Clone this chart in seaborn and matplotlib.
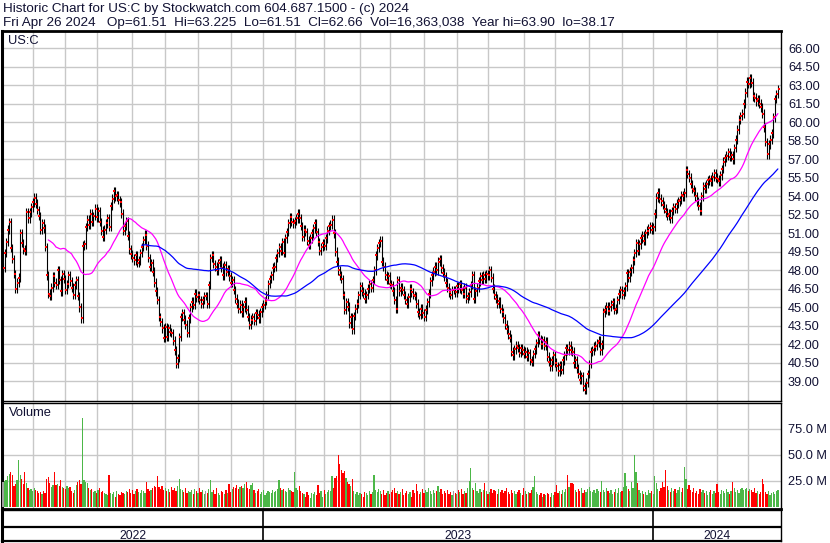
import numpy as np
import pandas as pd
import matplotlib
matplotlib.use("Agg")
import matplotlib.pyplot as plt
import seaborn as sns
from matplotlib.ticker import FuncFormatter, FormatStrFormatter

# ---- data (daily, May 4 2022 .. Apr 26 2024) ----
close = [
    48.2, 49.4, 50.3, 51.3, 51.9, 49.8, 48.9, 47.7, 46.5, 47.0,
    47.4, 51.0, 50.2, 49.7, 49.6, 52.7, 52.2, 52.7, 53.1, 53.5,
    53.9, 53.4, 52.9, 52.4, 51.3, 51.8, 51.4, 49.9, 47.6, 46.1,
    45.9, 46.6, 47.5, 47.0, 46.8, 48.0, 47.2, 46.3, 47.7, 47.3,
    46.4, 46.9, 47.6, 47.1, 46.6, 46.0, 46.8, 47.2, 45.9, 45.0,
    44.1, 50.0, 50.1, 51.5, 52.1, 51.7, 52.6, 51.9, 52.4, 53.0,
    52.3, 52.8, 51.9, 51.2, 50.7, 51.3, 51.8, 52.2, 51.5, 53.2,
    53.8, 54.4, 54.0, 54.1, 53.7, 53.5, 52.6, 51.2, 51.6, 52.0,
    50.8, 49.7, 49.3, 49.0, 48.8, 49.2, 48.6, 48.8, 49.4, 49.9,
    50.45, 50.9, 50.0, 49.0, 48.3, 48.6, 47.9, 47.0, 46.3, 45.6,
    44.2, 43.8, 43.3, 42.5, 43.4, 42.6, 43.3, 43.0, 42.9, 42.3,
    41.5, 40.4, 40.9, 42.6, 44.2, 44.5, 44.0, 43.6, 42.9, 44.1,
    45.0, 45.45, 45.2, 46.1, 45.8, 46.0, 45.6, 45.3, 45.6, 45.9,
    45.9, 45.3, 46.8, 49.0, 49.2, 48.5, 48.3, 48.0, 48.6, 48.8,
    48.2, 47.6, 48.4, 47.9, 48.1, 47.5, 47.0, 47.2, 46.4, 45.7,
    45.3, 44.9, 45.2, 44.6, 45.0, 45.45, 44.8, 44.2, 43.6, 44.0,
    44.2, 43.9, 44.5, 44.4, 44.1, 44.6, 45.0, 45.2, 45.5, 46.0,
    46.9, 47.3, 47.6, 48.2, 48.3, 49.0, 49.4, 49.9, 49.6, 50.3,
    49.4, 50.6, 51.1, 51.8, 52.3, 51.9, 51.8, 52.0, 52.2, 52.6,
    52.2, 51.6, 50.7, 51.3, 51.1, 50.4, 50.05, 50.6, 51.0, 51.4,
    51.8, 51.1, 50.3, 49.6, 49.9, 50.2, 50.0, 50.6, 51.2, 51.6,
    51.7, 52.1, 51.0, 49.5, 48.7, 48.0, 47.6, 47.3, 46.0, 44.8,
    45.4, 45.05, 43.7, 44.2, 43.2, 44.3, 44.9, 45.3, 46.0, 46.7,
    46.3, 46.1, 45.7, 46.0, 46.5, 46.9, 46.6, 47.2, 48.0, 49.2,
    49.8, 50.2, 50.4, 48.7, 48.3, 47.6, 47.2, 47.5, 46.9, 46.8,
    46.3, 45.6, 44.9, 47.2, 46.3, 46.6, 46.4, 46.0, 45.6, 45.3,
    45.8, 46.5, 46.2, 46.0, 45.9, 45.3, 44.6, 44.4, 44.9, 44.5,
    44.2, 44.8, 45.4, 46.1, 47.1, 47.6, 47.9, 48.3, 48.0, 48.7,
    48.9, 48.15, 47.8, 47.5, 47.0, 46.6, 46.2, 46.0, 46.4, 46.4,
    46.2, 46.7, 46.5, 46.9, 46.4, 46.1, 46.6, 45.7, 45.9, 46.2,
    46.8, 47.6, 45.7, 46.3, 46.6, 47.1, 47.5, 47.2, 47.6, 47.3,
    47.7, 47.6, 48.0, 47.4, 46.5, 46.0, 45.7, 45.3, 45.5, 44.9,
    44.6, 44.1, 43.6, 43.2, 42.8, 42.5, 41.4, 41.1, 41.6, 41.9,
    41.7, 41.3, 41.7, 41.5, 41.2, 41.4, 41.0, 41.3, 40.7, 40.6,
    41.2, 41.6, 42.1, 42.75, 42.4, 42.0, 42.35, 41.9, 42.2, 41.0,
    40.6, 40.2, 40.7, 41.1, 40.5, 40.2, 39.8, 40.3, 39.9, 40.7,
    41.1, 41.7, 41.5, 41.9, 41.5, 41.4, 40.45, 40.7, 40.05, 39.6,
    39.1, 39.4, 38.6, 38.3, 38.9, 39.6, 40.4, 41.4, 41.5, 41.8,
    41.9, 42.1, 42.3, 41.5, 42.0, 44.6, 44.8, 45.05, 44.7, 45.05,
    45.2, 45.4, 44.8, 44.9, 45.6, 46.1, 46.4, 46.0, 46.3, 46.7,
    47.75, 47.4, 47.9, 48.15, 48.8, 49.4, 50.2, 49.6, 50.1, 50.6,
    50.8, 50.4, 51.0, 51.2, 51.4, 51.6, 51.3, 51.5, 52.6, 53.9,
    54.3, 53.8, 53.6, 53.3, 53.0, 52.7, 52.4, 52.6, 52.2, 52.8,
    53.1, 53.0, 53.4, 53.6, 53.7, 54.1, 54.0, 54.3, 56.1, 55.8,
    55.5, 55.0, 54.6, 54.4, 54.0, 53.6, 53.2, 52.8, 54.0, 54.8,
    54.6, 55.0, 55.3, 55.4, 55.2, 55.6, 55.9, 55.5, 55.4, 55.2,
    55.7, 56.2, 56.8, 57.1, 57.3, 57.6, 57.2, 57.35, 57.0, 57.9,
    58.6, 59.4, 60.2, 60.5, 60.7, 61.5, 62.4, 63.3, 63.1, 63.6,
    63.2, 62.1, 62.0, 61.7, 61.9, 61.5, 61.2, 60.7, 59.6, 58.4,
    57.4, 58.2, 58.6, 59.1, 60.4, 61.9, 62.3, 62.66,
]

# volume in millions of shares
volume = [
    24, 25, 26, 30, 32, 34, 31, 20, 22, 26,
    45, 31, 27, 22, 34, 23, 18, 16, 17, 15,
    18, 16, 15, 13, 14, 12, 15, 13, 27, 29,
    23, 19, 21, 34, 21, 22, 20, 26, 19, 18,
    17, 20, 18, 19, 15, 13, 16, 21, 24, 26,
    22, 86, 26, 24, 23, 18, 16, 17, 14, 15,
    13, 16, 18, 14, 15, 13, 12, 11, 31, 13,
    12, 14, 10, 15, 12, 11, 14, 13, 12, 15,
    14, 17, 13, 16, 12, 15, 17, 14, 13, 16,
    15, 13, 24, 17, 15, 16, 18, 20, 19, 30,
    19, 17, 20, 16, 18, 15, 17, 14, 19, 16,
    18, 15, 20, 27, 17, 16, 14, 18, 13, 15,
    14, 16, 12, 17, 15, 13, 18, 14, 16, 12,
    15, 13, 17, 26, 14, 16, 12, 18, 13, 11,
    15, 14, 12, 16, 13, 22, 14, 17, 19, 18,
    21, 17, 19, 20, 18, 22, 24, 18, 17, 21,
    23, 16, 13, 15, 17, 12, 14, 16, 11, 13,
    15, 14, 13, 16, 14, 15, 17, 26, 18, 16,
    17, 15, 14, 18, 16, 15, 14, 34, 18, 16,
    20, 15, 13, 12, 10, 14, 11, 9, 13, 12,
    14, 11, 21, 13, 15, 10, 16, 12, 14, 16,
    15, 30, 18, 28, 30, 50, 41, 36, 33, 35,
    28, 24, 22, 20, 27, 15, 12, 14, 11, 13,
    12, 10, 14, 13, 11, 15, 12, 14, 31, 16,
    14, 17, 15, 12, 16, 11, 13, 15, 12, 14,
    16, 18, 13, 15, 12, 14, 17, 11, 13, 15,
    12, 14, 10, 16, 13, 22, 15, 12, 14, 17,
    13, 16, 14, 18, 15, 12, 16, 13, 15, 20,
    14, 17, 12, 15, 13, 16, 12, 14, 11, 15,
    13, 12, 16, 14, 17, 12, 15, 13, 18, 25,
    37, 18, 16, 23, 15, 13, 17, 14, 16, 23,
    15, 12, 14, 17, 13, 16, 15, 12, 17, 14,
    16, 13, 15, 18, 14, 12, 16, 13, 15, 12,
    14, 16, 13, 11, 18, 15, 12, 14, 13, 16,
    19, 30, 14, 12, 11, 13, 10, 12, 11, 13,
    12, 10, 13, 11, 14, 21, 13, 15, 12, 16,
    14, 17, 31, 19, 23, 23, 22, 16, 14, 17,
    15, 18, 13, 16, 14, 17, 19, 15, 14, 16,
    13, 17, 15, 14, 25, 16, 14, 18, 15, 13,
    16, 12, 14, 17, 13, 18, 14, 15, 19, 33,
    20, 17, 15, 24, 18, 50, 34, 23, 16, 13,
    15, 12, 14, 11, 16, 13, 15, 12, 30, 23,
    17, 15, 18, 24, 19, 36, 20, 16, 14, 18,
    15, 17, 13, 16, 19, 14, 18, 38, 27, 17,
    21, 16, 14, 18, 13, 15, 12, 17, 14, 16,
    13, 15, 11, 14, 16, 12, 15, 13, 22, 14,
    12, 16, 15, 13, 17, 14, 12, 15, 24, 18,
    14, 16, 13, 17, 18, 16, 17, 18, 15, 17,
    16, 14, 18, 13, 15, 12, 14, 27, 22, 14,
    12, 15, 11, 13, 14, 12, 15, 16.4,
]

market_holidays = [
    "2022-05-30", "2022-06-20", "2022-07-04", "2022-09-05", "2022-11-24",
    "2022-12-26", "2023-01-02", "2023-01-16", "2023-02-20", "2023-04-07",
    "2023-05-29", "2023-06-19", "2023-07-04", "2023-09-04", "2023-11-23",
    "2023-12-25", "2024-01-01", "2024-01-15", "2024-02-19", "2024-03-29",
]

title_line = "Historic Chart for US:C by Stockwatch.com 604.687.1500 - (c) 2024"
quote_line = ("Fri Apr 26 2024   Op=61.51  Hi=63.225  Lo=61.51  Cl=62.66  "
              "Vol=16,363,038  Year hi=63.90  lo=38.17")
symbol = "US:C"
price_ticks = [39.0, 40.5, 42.0, 43.5, 45.0, 46.5, 48.0, 49.5, 51.0, 52.5,
               54.0, 55.5, 57.0, 58.5, 60.0, 61.5, 63.0, 64.5, 66.0]
vol_ticks = [25, 50, 75]

# ---- frame ----
dates = pd.bdate_range("2022-05-04", "2024-04-26", freq="C", holidays=market_holidays)
n = min(len(dates), len(close))
df = pd.DataFrame({"date": dates[:n], "close": close[:n], "volume": volume[:n]})
df["i"] = np.arange(n)
df["prev"] = df["close"].shift(1).fillna(df["close"])
df["ma30"] = df["close"].rolling(30).mean()
df["ma90"] = df["close"].rolling(90).mean()
wick = 0.35
df["hi"] = df[["prev", "close"]].max(axis=1) + wick
df["lo"] = df[["prev", "close"]].min(axis=1) - wick
df["mark_x"] = df["i"] + 0.4
chg = df["close"] - df["prev"]
df["vcol"] = np.where(chg > 0, "#4cb748", np.where(chg < 0, "#ff0000", "#a0a0a0"))

month_pos = df.index[df["date"].dt.month != df["date"].shift(1).dt.month].tolist()[1:]
year_pos = df.index[df["date"].dt.year != df["date"].shift(1).dt.year].tolist()[1:]

# ---- style ----
sns.set_style("white")
plt.rcParams["font.family"] = ["Liberation Sans", "DejaVu Sans"]

W, H = 830, 543
fig = plt.figure(figsize=(W / 100, H / 100), dpi=100)
fig.patch.set_facecolor("white")


def box(l, t, r, b):
    return [l / W, 1 - b / H, (r - l) / W, (b - t) / H]


ax = fig.add_axes(box(2, 31, 781, 401))
axv = fig.add_axes(box(2, 403, 781, 509))
axd = fig.add_axes(box(2, 510, 781, 541))

xlim = (-0.64, n + 1.0)
grid_kw = dict(color="#c8c8c8", lw=1.0)

# price panel
ax.set_xlim(*xlim)
ax.set_ylim(37.40, 67.40)
ax.set_xticks(month_pos)
ax.set_yticks(price_ticks)
ax.grid(True, **grid_kw)
ax.set_axisbelow(True)
ax.tick_params(axis="x", length=0, labelbottom=False)
ax.yaxis.tick_right()
ax.yaxis.set_major_formatter(FormatStrFormatter("%.2f"))
ax.tick_params(axis="y", length=0, pad=5, labelsize=9.2, labelcolor="#111133")

ax.vlines(df["i"], df["lo"], df["hi"], color="black", lw=0.8, zorder=3)
sns.scatterplot(data=df, x="mark_x", y="close", marker="s", s=2.5, color="#ff0000",
                linewidth=0, ax=ax, zorder=4)
sns.lineplot(data=df, x="i", y="ma30", color="#ff00ff", lw=0.9, ax=ax, zorder=5)
sns.lineplot(data=df, x="i", y="ma90", color="#0000ff", lw=0.9, ax=ax, zorder=5)
ax.set_xlabel("")
ax.set_ylabel("")
ax.text(6 / 779, 1 - 10 / 370, symbol, transform=ax.transAxes, fontsize=9.3,
        ha="left", va="center", color="#111133")

# volume panel
axv.set_xlim(*xlim)
axv.set_ylim(-2.0, 100.0)
axv.set_xticks(month_pos)
axv.set_yticks(vol_ticks)
axv.grid(True, **grid_kw)
axv.set_axisbelow(True)
axv.bar(df["i"], df["volume"], width=0.8, color=df["vcol"], linewidth=0, zorder=3)
axv.tick_params(axis="x", length=0, labelbottom=False)
axv.yaxis.tick_right()
axv.yaxis.set_major_formatter(FuncFormatter(lambda v, p: f"{v:.1f} M"))
axv.tick_params(axis="y", length=0, pad=5, labelsize=9.2, labelcolor="#111133")
axv.text(7 / 779, 1 - 10 / 106, "Volume", transform=axv.transAxes, fontsize=9.3,
         ha="left", va="center", color="#111133")

# date strip
axd.set_xlim(*xlim)
axd.set_ylim(0, 2)
axd.set_xticks([])
axd.set_yticks([])
axd.axhline(0.9, color="black", lw=1.6)
axd.vlines(year_pos, 0, 2, color="black", lw=1.2)
edges = [xlim[0]] + year_pos + [xlim[1]]
for k in range(len(edges) - 1):
    yr = df["date"].iloc[min(max(int(edges[k]), 0), n - 1)].year
    axd.text((edges[k] + edges[k + 1]) / 2, 0.16, str(yr), ha="center",
             va="baseline", fontsize=8.7, color="#111133")

for a in (ax, axv, axd):
    for s in a.spines.values():
        s.set_color("black")
        s.set_linewidth(1.0)
    a.spines["left"].set_linewidth(2.2)
ax.spines["top"].set_linewidth(2.0)
axv.spines["bottom"].set_linewidth(2.0)
axd.spines["bottom"].set_linewidth(1.6)

# header
fig.text(3 / W, 1 - 11.7 / H, title_line, fontsize=9.7, va="baseline", ha="left",
         color="#111133")
fig.text(3 / W, 1 - 25.7 / H, quote_line, fontsize=9.7, va="baseline", ha="left",
         color="#111133")

fig.savefig("out.png", dpi=100, facecolor="white")
